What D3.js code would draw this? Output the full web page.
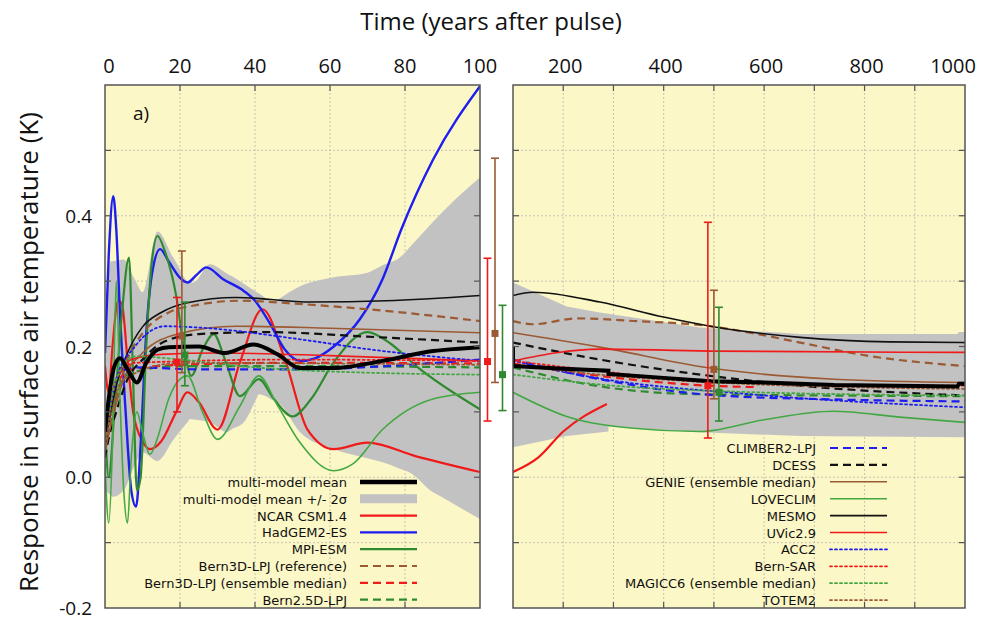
<!DOCTYPE html>
<html><head><meta charset="utf-8">
<script src="https://cdn.jsdelivr.net/npm/d3@7"></script>
<style>body{margin:0;background:#fff} svg{display:block} text{font-family:"Open Sans",sans-serif;fill:#111}</style>
</head><body><svg id="c" width="985" height="632"></svg>
<script>
// ---------------- DATA ----------------
const leftTicks = [0, 20, 40, 60, 80, 100];
const rightTicks = [200, 400, 600, 800, 1000];
const yTickLabels = [-0.2, 0.0, 0.2, 0.4];
const yGrid = [-0.1, 0.0, 0.1, 0.2, 0.3, 0.4, 0.5];

// [year, K]
const meanEarly = [[0,0.07],[1,0.12],[2.5,0.17],[4,0.182],[6,0.165],[8.5,0.145],[11,0.175],[14,0.195],[17,0.199],[25,0.2],[32,0.19],[39.6,0.203],[46,0.188],[52,0.167],[61,0.167],[74,0.178],[87.5,0.193],[100,0.199]];
const meanLate = [[100,0.2],[100,0.17],[200,0.166],[290,0.163],[290,0.158],[400,0.152],[494,0.147],[600,0.145],[740,0.141],[985,0.139],[988,0.143],[1000,0.143]];
const bandEarlyUpper = [[0,0.2],[1.5,0.33],[5,0.333],[7.5,0.307],[10,0.283],[14,0.376],[18,0.338],[22,0.3],[23.5,0.298],[28,0.326],[34,0.307],[40.5,0.283],[45,0.268],[52,0.292],[61,0.306],[70,0.313],[79,0.338],[88,0.394],[100,0.459]];
const bandEarlyLower = [[0,-0.02],[2,-0.03],[5,-0.02],[8,0.02],[10,0.038],[14,0.025],[19,0.063],[22.7,0.089],[28,0.084],[32.5,0.069],[37,0.084],[41,0.127],[46,0.115],[52,0.069],[61,0.043],[74,0.023],[81,0.008],[87.5,-0.023],[100,-0.064]];
const bandLateUpper = [[100,0.298],[207,0.261],[273,0.252],[472,0.229],[672,0.219],[985,0.219],[988,0.222],[1000,0.222]];
const bandLateLower = [[100,0.046],[207,0.063],[290,0.07],[290,0.078],[472,0.069],[672,0.063],[1000,0.061]];

const NCAR = [[0,0.17],[1,0.13],[2,0.2],[3.5,0.27],[4.5,0.265],[6,0.18],[7.5,0.1],[10,0.055],[12,0.043],[15,0.055],[19,0.1],[22,0.13],[25,0.115],[30,0.073],[36,0.176],[42,0.257],[48,0.18],[54,0.073],[61,0.043],[70,0.053],[83,0.032],[100,0.008],[150,0.03],[200,0.07],[287,0.112]];
const HADGEM = [[0,0.19],[1,0.34],[2.2,0.43],[3,0.38],[4,0.25],[5.5,0.1],[7,-0.02],[8.3,-0.045],[9.5,0.05],[11,0.22],[12.5,0.31],[14.7,0.349],[17,0.33],[20,0.305],[22,0.298],[24.5,0.31],[27,0.321],[31.5,0.303],[37,0.285],[40,0.27],[44,0.235],[48,0.195],[52,0.178],[56,0.182],[61,0.2],[68,0.242],[74,0.303],[79,0.379],[87.5,0.486],[100,0.598]];
const MPI = [[0,0.08],[1,0.0],[2.5,0.1],[4.5,0.25],[6.4,0.336],[7.5,0.15],[8.5,-0.02],[9.5,0.0],[11,0.2],[12.5,0.33],[14,0.369],[16,0.345],[19,0.277],[21,0.2],[23,0.155],[26,0.195],[29,0.219],[32,0.18],[36,0.124],[41,0.15],[45,0.12],[50,0.093],[55,0.12],[61,0.176],[70,0.222],[76,0.205],[83,0.17],[100,0.104]];
const LOVECLIM = [[0,0.02],[1,-0.07],[2,0.05],[3,0.3],[4,0.12],[5,-0.02],[6,-0.07],[7,0.03],[8.5,0.1],[10,0.069],[12,0.035],[14,0.06],[17,0.12],[20,0.15],[22,0.155],[26,0.1],[30,0.058],[36,0.109],[41,0.155],[46,0.11],[52,0.053],[61,0.01],[66,0.02],[74,0.073],[87,0.119],[100,0.13],[207,0.093],[340,0.075],[472,0.07],[600,0.088],[737,0.101],[870,0.092],[1000,0.084]];
const MESMO = [[0,0.05],[3,0.14],[6,0.19],[10,0.23],[15,0.252],[22,0.267],[35,0.275],[55,0.268],[75,0.27],[100,0.278],[140,0.283],[273,0.268],[400,0.245],[493,0.231],[672,0.214],[850,0.207],[1000,0.206]];
const BERN3D_REF = [[0,0.04],[3,0.12],[6,0.18],[10,0.22],[17,0.252],[25,0.264],[36,0.27],[52,0.265],[70,0.257],[100,0.239],[140,0.234],[227,0.243],[340,0.239],[493,0.231],[580,0.22],[672,0.206],[805,0.186],[1000,0.17]];
const GENIE = [[0,0.04],[2,0.09],[5,0.15],[10,0.19],[20,0.22],[35,0.231],[60,0.228],[100,0.221],[273,0.199],[493,0.167],[740,0.15],[1000,0.145]];
const DCESS = [[0,0.03],[1,0.06],[3,0.1],[6,0.15],[10,0.18],[16,0.208],[25,0.219],[43,0.222],[70,0.215],[100,0.206],[273,0.18],[493,0.155],[672,0.14],[1000,0.125]];
const ACC2 = [[0,0.06],[3,0.15],[8,0.2],[16,0.231],[25,0.229],[52,0.211],[70,0.196],[100,0.178],[273,0.151],[572,0.127],[1000,0.107]];
const CLIMBER2 = [[0,0.05],[2,0.12],[4,0.16],[8,0.168],[25,0.165],[52,0.165],[75,0.17],[100,0.18],[273,0.15],[493,0.126],[740,0.119],[1000,0.116]];
const BERN3D_MED = [[0,0.05],[3,0.14],[7,0.165],[20,0.172],[50,0.175],[100,0.174],[273,0.155],[493,0.14],[580,0.138]];
const BERN25D = [[0,0.04],[3,0.13],[7,0.16],[20,0.17],[50,0.17],[100,0.168],[273,0.139],[472,0.127],[1000,0.124]];
const UVIC = [[0,0.05],[3,0.15],[7,0.18],[15,0.188],[30,0.19],[60,0.186],[100,0.178],[273,0.196],[500,0.193],[1000,0.191]];
const BERNSAR = [[0,0.05],[3,0.15],[8,0.175],[50,0.18],[100,0.178],[300,0.16],[500,0.145],[1000,0.14]];
const MAGICC6 = [[0,0.05],[3,0.15],[8,0.185],[20,0.18],[40,0.168],[70,0.16],[100,0.157],[300,0.14],[500,0.132],[1000,0.125]];
const TOTEM2 = [[0,0.05],[5,0.15],[20,0.175],[100,0.172],[300,0.155],[500,0.145],[1000,0.135]];

// ensemble ranges: [year, low, median, high]
const errBern3D = [[19.2,0.10,0.176,0.275],[102,0.086,0.177,0.335],[488,0.06,0.14,0.39]];
const errGENIE  = [[20.5,0.16,0.216,0.346],[104,0.145,0.22,0.488],[500,0.12,0.165,0.286]];
const errMAGICC = [[21.3,0.14,0.187,0.268],[106,0.102,0.157,0.263],[510,0.086,0.13,0.26]];

// ---------------- STYLES ----------------
const C = {red:"#f01a1a", blue:"#1d1df0", green:"#2f8a2f", lgreen:"#43a843", brown:"#9b5a33", black:"#111"};
const series = [
  {name:"NCAR CSM1.4", d:NCAR, c:C.red, w:2.2, dash:null, side:"L"},
  {name:"HadGEM2-ES", d:HADGEM, c:C.blue, w:2.4, dash:null, side:"L"},
  {name:"MPI-ESM", d:MPI, c:C.green, w:2.2, dash:null, side:"L"},
  {name:"Bern3D-LPJ (reference)", d:BERN3D_REF, c:C.brown, w:2.2, dash:"8,5", side:"L"},
  {name:"Bern3D-LPJ (ensemble median)", d:BERN3D_MED, c:C.red, w:2.2, dash:"8,5", side:"L"},
  {name:"Bern2.5D-LPJ", d:BERN25D, c:C.green, w:2.2, dash:"8,5", side:"L"},
  {name:"CLIMBER2-LPJ", d:CLIMBER2, c:C.blue, w:2.2, dash:"8,5", side:"R"},
  {name:"DCESS", d:DCESS, c:C.black, w:2.2, dash:"8,5", side:"R"},
  {name:"GENIE (ensemble median)", d:GENIE, c:C.brown, w:1.6, dash:null, side:"R"},
  {name:"LOVECLIM", d:LOVECLIM, c:C.lgreen, w:1.6, dash:null, side:"R"},
  {name:"MESMO", d:MESMO, c:C.black, w:1.6, dash:null, side:"R"},
  {name:"UVic2.9", d:UVIC, c:C.red, w:1.6, dash:null, side:"R"},
  {name:"ACC2", d:ACC2, c:C.blue, w:1.8, dash:"2,3", side:"R"},
  {name:"Bern-SAR", d:BERNSAR, c:C.red, w:1.8, dash:"2,3", side:"R"},
  {name:"MAGICC6 (ensemble median)", d:MAGICC6, c:C.lgreen, w:1.8, dash:"2,3", side:"R"},
  {name:"TOTEM2", d:TOTEM2, c:C.brown, w:1.8, dash:"2,3", side:"R"}
];

// ---------------- CHART ----------------
const svg = d3.select("#c");
const xL = d3.scaleLinear().domain([0,100]).range([105,480]);
const xR = d3.scaleLinear().domain([100,1000]).range([513,965]);
const y = d3.scaleLinear().domain([-0.2,0.6]).range([608,85]);
const bg = "#fcf7c6", band = "#c2c2c2", axisC = "#555";

const defs = svg.append("defs");
defs.append("clipPath").attr("id","clipL").append("rect").attr("x",xL(0)).attr("y",y(0.6)).attr("width",xL(100)-xL(0)).attr("height",y(-0.2)-y(0.6));
defs.append("clipPath").attr("id","clipR").append("rect").attr("x",xR(100)).attr("y",y(0.6)).attr("width",xR(1000)-xR(100)).attr("height",y(-0.2)-y(0.6));

function panel(x, clip, early) {
  const g = svg.append("g");
  const [x0,x1] = x.range();
  g.append("rect").attr("x",x0).attr("y",y(0.6)).attr("width",x1-x0).attr("height",y(-0.2)-y(0.6)).attr("fill",bg);
  const vt = early ? [20,40,60,80] : [200,300,400,500,600,700,800,900];
  g.selectAll(".vg").data(vt).join("line").attr("x1",d=>x(d)).attr("x2",d=>x(d)).attr("y1",y(0.6)).attr("y2",y(-0.2))
    .attr("stroke","#b8b8b0").attr("stroke-width",0.8).attr("stroke-dasharray","2,2");
  g.selectAll(".hg").data(yGrid).join("line").attr("x1",x0).attr("x2",x1).attr("y1",d=>y(d)).attr("y2",d=>y(d))
    .attr("stroke","#b8b8b0").attr("stroke-width",0.8).attr("stroke-dasharray","2,2");
  const inner = g.append("g").attr("clip-path",`url(#${clip})`);
  g.selectAll(".tt").data(vt).join("line").attr("x1",d=>x(d)).attr("x2",d=>x(d)).attr("y1",y(0.6)).attr("y2",y(0.6)+6).attr("stroke",axisC).attr("stroke-width",1.2);
  g.selectAll(".tb").data(vt).join("line").attr("x1",d=>x(d)).attr("x2",d=>x(d)).attr("y1",y(-0.2)).attr("y2",y(-0.2)-6).attr("stroke",axisC).attr("stroke-width",1.2);
  g.selectAll(".tl").data(yGrid).join("line").attr("x1",x0).attr("x2",x0+6).attr("y1",d=>y(d)).attr("y2",d=>y(d)).attr("stroke",axisC).attr("stroke-width",1.2);
  g.selectAll(".tr").data(yGrid).join("line").attr("x1",x1).attr("x2",x1-6).attr("y1",d=>y(d)).attr("y2",d=>y(d)).attr("stroke",axisC).attr("stroke-width",1.2);
  return {g, inner};
}

const PL = panel(xL, "clipL", true);
const PR = panel(xR, "clipR", false);

function drawBand(inner, x, up, lo) {
  const pts = up.map(d=>[x(d[0]),y(d[1])]).concat(lo.slice().reverse().map(d=>[x(d[0]),y(d[1])]));
  inner.append("path").attr("d", "M"+pts.map(p=>p.join(",")).join("L")+"Z").attr("fill",band);
}
function drawSmoothBand(inner, x, up, lo) {
  const area = d3.area().x(d=>x(d[0])).y1(d=>y(d[1])).y0(d=>y(d[2])).curve(d3.curveMonotoneX);
  const xs = Array.from(new Set(up.map(d=>d[0]).concat(lo.map(d=>d[0])))).sort((a,b)=>a-b);
  const iu = d3.scaleLinear().domain(up.map(d=>d[0])).range(up.map(d=>d[1]));
  const il = d3.scaleLinear().domain(lo.map(d=>d[0])).range(lo.map(d=>d[1]));
  inner.append("path").attr("d", area(xs.map(t=>[t, iu(t), il(t)]))).attr("fill",band);
}
drawSmoothBand(PL.inner, xL, bandEarlyUpper, bandEarlyLower);
drawBand(PR.inner, xR, bandLateUpper, bandLateLower);

series.forEach(s=>{
  const left = s.d.filter(d=>d[0]<=100);
  const right = s.d.filter(d=>d[0]>=100);
  [[PL.inner,xL,left],[PR.inner,xR,right]].forEach(([inner,x,pts])=>{
    if (pts.length<2) return;
    inner.append("path").attr("d", d3.line().x(d=>x(d[0])).y(d=>y(d[1])).curve(d3.curveMonotoneX)(pts))
      .attr("fill","none").attr("stroke",s.c).attr("stroke-width",s.w)
      .attr("stroke-dasharray",s.dash).attr("stroke-linecap", s.dash==="2,3"?"round":"butt");
  });
});

PL.inner.append("path").attr("d", d3.line().x(d=>xL(d[0])).y(d=>y(d[1])).curve(d3.curveMonotoneX)(meanEarly))
  .attr("fill","none").attr("stroke","#000").attr("stroke-width",4);
PR.inner.append("path").attr("d", d3.line().x(d=>xR(d[0])).y(d=>y(d[1]))(meanLate))
  .attr("fill","none").attr("stroke","#000").attr("stroke-width",4);

[xL, xR].forEach(x=>{
  const [x0,x1]=x.range();
  svg.append("rect").attr("x",x0).attr("y",y(0.6)).attr("width",x1-x0).attr("height",y(-0.2)-y(0.6))
    .attr("fill","none").attr("stroke",axisC).attr("stroke-width",1.5);
});

function xAny(t){ return t<=110 ? xL(t) : xR(t); }
[[errBern3D,C.red],[errGENIE,C.brown],[errMAGICC,C.green]].forEach(([arr,col])=>{
  arr.forEach(([t,lo,mid,hi])=>{
    const xx = xAny(t);
    const g = svg.append("g").attr("stroke",col).attr("stroke-width",1.6);
    g.append("line").attr("x1",xx).attr("x2",xx).attr("y1",y(lo)).attr("y2",y(hi));
    g.append("line").attr("x1",xx-4).attr("x2",xx+4).attr("y1",y(lo)).attr("y2",y(lo));
    g.append("line").attr("x1",xx-4).attr("x2",xx+4).attr("y1",y(hi)).attr("y2",y(hi));
    svg.append("rect").attr("x",xx-3.5).attr("y",y(mid)-3.5).attr("width",7).attr("height",7).attr("fill",col);
  });
});

// axis labels
svg.selectAll(".lt").data(leftTicks).join("text").attr("x",d=>xL(d)+(d===0?4:0)).attr("y",73)
  .attr("text-anchor","middle").attr("font-size",20).text(d=>d);
svg.selectAll(".rt").data(rightTicks).join("text").attr("x",d=>xR(d)-(d===1000?12:-2)).attr("y",73)
  .attr("text-anchor","middle").attr("font-size",20).text(d=>d);
svg.selectAll(".yt").data(yTickLabels).join("text").attr("x",92).attr("y",d=>y(d)+7)
  .attr("text-anchor","end").attr("font-size",19).text(d=>d.toFixed(1));
svg.append("text").attr("x",491).attr("y",30).attr("text-anchor","middle").attr("font-size",24).text("Time (years after pulse)");
svg.append("text").attr("transform","translate(38,352) rotate(-90)").attr("text-anchor","middle").attr("font-size",26)
  .text("Response in surface air temperature (K)");
svg.append("text").attr("x",133).attr("y",120).attr("font-size",19).text("a)");

// legends
const legL = [
  {name:"multi-model mean", c:"#000", w:4.5, dash:null},
  {name:"multi-model mean +/- 2σ", c:band, w:9, dash:null}
].concat(series.filter(s=>s.side==="L"));
const legR = series.filter(s=>s.side==="R");
function legend(items, xText, x0, x1, y0, dy){
  items.forEach((s,i)=>{
    const yy = y0 + i*dy;
    svg.append("text").attr("x",xText).attr("y",yy+5).attr("text-anchor","end")
      .style("font-family","'DejaVu Sans',sans-serif").attr("font-size",13).text(s.name);
    svg.append("line").attr("x1",x0).attr("x2",x1).attr("y1",yy).attr("y2",yy).attr("stroke",s.c)
      .attr("stroke-width",s.w).attr("stroke-dasharray",s.dash).attr("stroke-linecap", s.dash==="2,3"?"round":"butt");
  });
}
legend(legL, 347, 360, 417, 482, 16.8);
legend(legR, 816, 830, 887, 448, 16.9);
</script></body></html>
